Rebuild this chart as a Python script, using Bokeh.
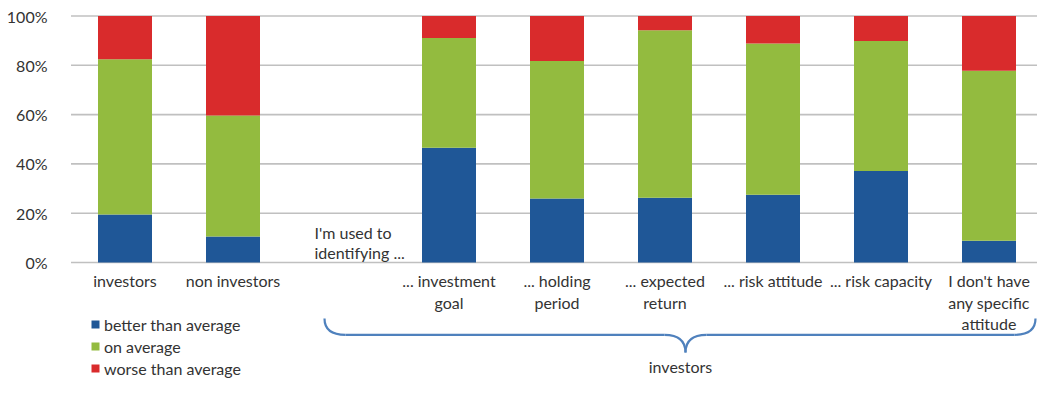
from bokeh.plotting import figure
from bokeh.models import Range1d, LinearAxis, FixedTicker, PrintfTickFormatter, Legend, ColumnDataSource
from bokeh.core.properties import value
from bokeh.embed import file_html
from bokeh.resources import INLINE

# ---- data (percent) ----
categories = ["investors", "non investors", "",
              "... investment\ngoal", "... holding\nperiod", "... expected\nreturn",
              "... risk attitude", "... risk capacity", "I don't have\nany specific\nattitude"]
better = [19.5, 10.5, 0, 46.6, 26.0, 26.3, 27.5, 37.1, 8.8]
on_avg = [63.0, 49.1, 0, 44.5, 55.7, 67.9, 61.3, 52.8, 69.0]
worse = [17.5, 40.4, 0, 8.9, 18.3, 5.8, 11.2, 10.1, 22.2]
series_names = ["better than average", "on average", "worse than average"]
colors = ["#1F5797", "#93BB3F", "#D92B2C"]
y_ticks = [0, 20, 40, 60, 80, 100]
gap_note = "I'm used to\nidentifying ..."
group_label = "investors"

FONT = "Lato"
FS = "16px"
TXT = "#333333"

W, H = 1037, 378
LEFT = 70

# picture-pixel helpers -> data
def X(px):
    return (px - 70.5) / 108.0

def Y(py):
    return (262.0 - py) / 2.465

p = figure(width=W, height=H, output_backend="svg", toolbar_location=None,
           x_range=Range1d(X(LEFT), X(W)), y_range=Range1d(Y(H), Y(0)),
           min_border_left=LEFT, min_border_right=0, min_border_top=0, min_border_bottom=0,
           x_axis_location=None, y_axis_location=None)
p.outline_line_color = None
p.xgrid.visible = False
p.ygrid.visible = False

yaxis = LinearAxis(ticker=FixedTicker(ticks=y_ticks), formatter=PrintfTickFormatter(format="%d%%"))
yaxis.axis_line_color = None
yaxis.major_tick_line_color = None
yaxis.minor_tick_line_color = None
yaxis.major_label_standoff = 17
yaxis.major_label_text_font = FONT
yaxis.major_label_text_font_size = FS
yaxis.major_label_text_color = TXT
p.add_layout(yaxis, "left")

xs = [i + 0.5 for i in range(len(categories))]
x_left, x_right = 0.0, float(len(categories))
p.segment(x0=[x_left] * len(y_ticks), x1=[x_right] * len(y_ticks), y0=y_ticks, y1=y_ticks,
          line_color="#C0C0C0", line_width=1.6)

src = ColumnDataSource(dict(x=xs, better=better, on_avg=on_avg, worse=worse))
rs = p.vbar_stack(["better", "on_avg", "worse"], x="x", width=0.5, source=src,
                  color=colors, line_color=None)

legend = Legend(items=[(n, [r]) for n, r in zip(series_names, rs)], location=(20, 0),
                orientation="vertical", padding=0, margin=0, spacing=2,
                glyph_width=10, glyph_height=10, label_height=20, label_standoff=4,
                label_text_font=FONT, label_text_font_size=FS, label_text_color=TXT,
                background_fill_alpha=0, border_line_color=None)
p.add_layout(legend)

# category labels (multi-line)
lx, ly, lt = [], [], []
for x, c in zip(xs, categories):
    for j, line in enumerate(c.split("\n")):
        if line:
            lx.append(x)
            ly.append(Y(280 + 21.5 * j))
            lt.append(line)
p.text(x=lx, y=ly, text=lt, text_align="center", text_baseline="middle",
       text_font=value(FONT), text_font_size=FS, text_color=TXT)

# note in the empty slot
gx, gy, gt = [], [], []
for j, line in enumerate(gap_note.split("\n")):
    gx.append(X(314)); gy.append(Y(232 + 20 * j)); gt.append(line)
p.text(x=gx, y=gy, text=gt, text_align="left", text_baseline="middle",
       text_font=value(FONT), text_font_size=FS, text_color=TXT)

# curly bracket under the investor sub-questions
BC = "#4F81BD"
yt, yh, yp = 318, 334.3, 352
xl, xr, xm = 324, 1035, 685
r = 21
p.quadratic(x0=[X(xl), X(xm - r), X(xm), X(xr - r)],
            y0=[Y(yt), Y(yh), Y(yp), Y(yh)],
            x1=[X(xl + r), X(xm), X(xm + r), X(xr)],
            y1=[Y(yh), Y(yp), Y(yh), Y(yt)],
            cx=[X(xl), X(xm), X(xm), X(xr)],
            cy=[Y(yh), Y(yh), Y(yh), Y(yh)],
            line_color=BC, line_width=2.2)
p.segment(x0=[X(xl + r), X(xm + r)], y0=[Y(yh), Y(yh)], x1=[X(xm - r), X(xr - r)], y1=[Y(yh), Y(yh)],
          line_color=BC, line_width=2.2)
p.text(x=[X(680)], y=[Y(366)], text=[group_label], text_align="center", text_baseline="middle",
       text_font=value(FONT), text_font_size=FS, text_color=TXT)

open("out.html", "w").write(file_html(p, INLINE))
